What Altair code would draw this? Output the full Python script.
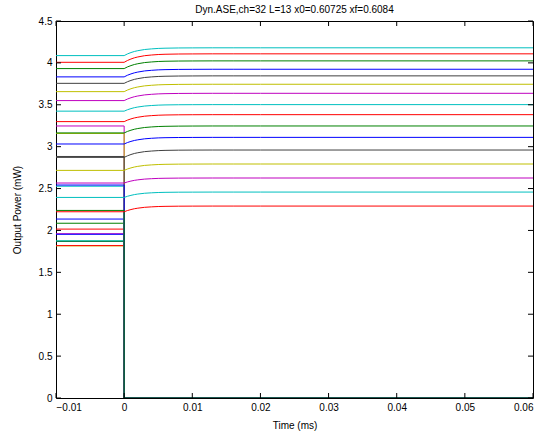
import altair as alt
import pandas as pd

FONT = "Liberation Sans"
T0, T1 = -0.01, 0.06
P0, P1 = 0.0, 4.5

# MATLAB default line colour cycle (b, g, r, c, m, y, k)
CYCLE = ["#0000ff", "#008000", "#ff0000", "#00bfbf", "#bf00bf", "#bfbf00", "#404040"]

# Channels 1-16: power before the add/drop event (mW); they go dark at t = 0
dropped_pre = [2.136, 2.086, 2.016, 2.528, 1.961, 1.816, 1.868, 1.954,
               1.873, 1.819, 1.876, 3.247, 3.158, 2.883, 2.542, 2.239]

# Channels 17-32: surviving channels, power before the event and settled power
surv_pre = [2.223, 2.394, 2.566, 2.717, 2.872, 3.032, 3.164, 3.299,
            3.424, 3.550, 3.657, 3.756, 3.833, 3.932, 4.007, 4.087]
surv_final = [2.291, 2.458, 2.626, 2.793, 2.960, 3.111, 3.247, 3.382,
              3.502, 3.637, 3.745, 3.845, 3.924, 4.024, 4.108, 4.180]

# Normalised ASE transient of the surviving channels after t = 0
trans_t = [0.0, 0.0005, 0.001, 0.0015, 0.002, 0.003, 0.004, 0.005,
           0.006, 0.008, 0.010, 0.013, 0.016, 0.020, 0.060]
trans_frac = [0.0, 0.22, 0.39, 0.53, 0.63, 0.78, 0.86, 0.92,
              0.95, 0.98, 0.99, 1.0, 1.0, 1.0, 1.0]

x_ticks = [-0.01, 0.0, 0.01, 0.02, 0.03, 0.04, 0.05, 0.06]
y_ticks = [0, 0.5, 1, 1.5, 2, 2.5, 3, 3.5, 4, 4.5]

W, H = 477, 377

rows = []
for i, p in enumerate(dropped_pre):
    ch = i + 1
    for k, (t, v) in enumerate([(T0, p), (0.0, p), (0.0, 0.0), (T1, 0.0)]):
        rows.append({"ch": ch, "k": k, "t": t, "p": v})
for i, (p, f) in enumerate(zip(surv_pre, surv_final)):
    ch = 17 + i
    rows.append({"ch": ch, "k": 0, "t": T0, "p": p})
    for k, (t, fr) in enumerate(zip(trans_t, trans_frac)):
        rows.append({"ch": ch, "k": k + 1, "t": t, "p": p + (f - p) * fr})
df = pd.DataFrame(rows)

x_axis = alt.Axis(values=x_ticks, ticks=False, domain=False, grid=False,
                  labelExpr="replace(format(datum.value, '~g'), '-', '\u2013')",
                  labelFont=FONT, labelFontSize=10, labelColor="black", labelPadding=4,
                  title="Time (ms)", titleFont=FONT, titleFontSize=10,
                  titleFontWeight="normal", titleColor="black", titlePadding=8)
y_axis = alt.Axis(values=y_ticks, format="~g", ticks=False, domain=False, grid=False,
                  labelFont=FONT, labelFontSize=10, labelColor="black", labelPadding=4,
                  title="Output Power (mW)", titleFont=FONT, titleFontSize=10,
                  titleFontWeight="normal", titleColor="black", titlePadding=16)

X = alt.X("t:Q", scale=alt.Scale(domain=[T0, T1], nice=False, zero=False), axis=x_axis)
Y = alt.Y("p:Q", scale=alt.Scale(domain=[P0, P1], nice=False, zero=False), axis=y_axis)

layers = []
for ch in range(1, 33):
    layers.append(
        alt.Chart(df)
        .transform_filter(alt.datum.ch == ch)
        .mark_line(color=CYCLE[(ch - 1) % 7], strokeWidth=1, clip=True)
        .encode(x=X, y=Y, order="k:Q")
    )

# inward tick marks on all four sides of the box
xt = pd.DataFrame({"t": x_ticks})
yt = pd.DataFrame({"p": y_ticks})
tick_len = 5
layers.append(alt.Chart(xt).mark_rule(color="black", strokeWidth=1)
              .encode(x=X, y=alt.value(H), y2=alt.value(H - tick_len)))
layers.append(alt.Chart(xt).mark_rule(color="black", strokeWidth=1)
              .encode(x=X, y=alt.value(0), y2=alt.value(tick_len)))
layers.append(alt.Chart(yt).mark_rule(color="black", strokeWidth=1)
              .encode(y=Y, x=alt.value(0), x2=alt.value(tick_len)))
layers.append(alt.Chart(yt).mark_rule(color="black", strokeWidth=1)
              .encode(y=Y, x=alt.value(W), x2=alt.value(W - tick_len)))

chart = (
    alt.layer(*layers)
    .properties(
        width=W, height=H,
        title=alt.TitleParams("Dyn.ASE,ch=32 L=13 x0=0.60725 xf=0.6084",
                              font=FONT, fontSize=10, fontWeight="normal",
                              color="black", offset=1),
        autosize=alt.AutoSizeParams(type="none"),
        padding={"left": 56, "top": 21, "right": 17, "bottom": 40},
        background="white",
    )
    .configure_view(stroke="black", strokeWidth=1)
)

chart.save("out.html", embed_options={"renderer": "svg", "actions": False})
